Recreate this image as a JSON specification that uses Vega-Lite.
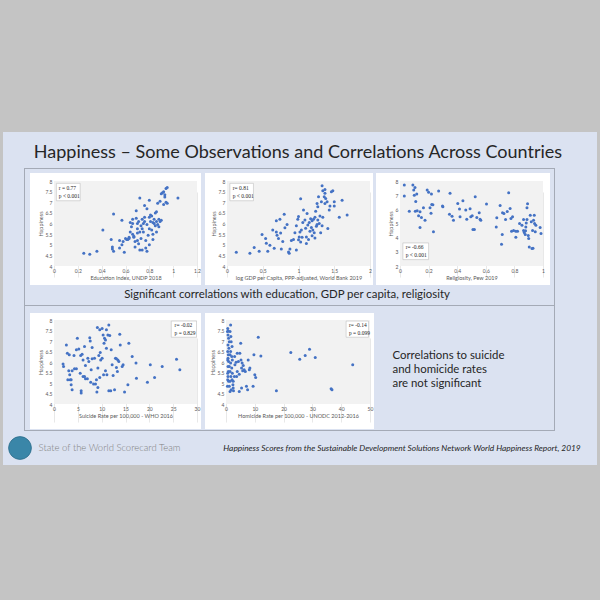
{
  "$schema": "https://vega.github.io/schema/vega-lite/v6.json",
  "padding": 0,
  "background": "#dbe2f1",
  "data": {"values": [{}]},
  "datasets": {
    "education": [
      {"value":0.25,"happiness":4.6},{"value":0.30,"happiness":4.55},{"value":0.36,"happiness":4.7},{"value":0.41,"happiness":5.7},{"value":0.50,"happiness":6.45},{"value":0.57,"happiness":6.15},{"value":0.48,"happiness":5.25},{"value":0.49,"happiness":4.9},{"value":0.49,"happiness":4.8},{"value":0.50,"happiness":4.7},{"value":0.55,"happiness":4.85},{"value":0.55,"happiness":5.2},{"value":0.59,"happiness":4.65},{"value":0.58,"happiness":5.15},{"value":0.61,"happiness":5.25},{"value":0.62,"happiness":5.25},{"value":0.63,"happiness":5.3},{"value":0.64,"happiness":5.6},{"value":0.64,"happiness":6.05},{"value":0.65,"happiness":5.85},{"value":0.66,"happiness":6.0},{"value":0.66,"happiness":5.5},{"value":0.67,"happiness":5.4},{"value":0.68,"happiness":5.15},{"value":0.68,"happiness":4.9},{"value":0.69,"happiness":6.6},{"value":0.69,"happiness":6.25},{"value":0.70,"happiness":5.75},{"value":0.70,"happiness":5.2},{"value":0.71,"happiness":6.1},{"value":0.71,"happiness":5.05},{"value":0.72,"happiness":4.75},{"value":0.72,"happiness":7.2},{"value":0.73,"happiness":5.9},{"value":0.73,"happiness":5.3},{"value":0.74,"happiness":6.2},{"value":0.74,"happiness":4.75},{"value":0.75,"happiness":6.0},{"value":0.75,"happiness":5.6},{"value":0.76,"happiness":6.3},{"value":0.76,"happiness":6.85},{"value":0.77,"happiness":5.2},{"value":0.77,"happiness":4.85},{"value":0.78,"happiness":4.7},{"value":0.78,"happiness":5.95},{"value":0.79,"happiness":5.45},{"value":0.80,"happiness":6.3},{"value":0.80,"happiness":5.0},{"value":0.80,"happiness":7.1},{"value":0.81,"happiness":6.1},{"value":0.81,"happiness":6.4},{"value":0.82,"happiness":5.7},{"value":0.82,"happiness":6.35},{"value":0.83,"happiness":5.5},{"value":0.83,"happiness":5.25},{"value":0.84,"happiness":6.0},{"value":0.84,"happiness":6.2},{"value":0.85,"happiness":5.9},{"value":0.85,"happiness":6.5},{"value":0.86,"happiness":6.1},{"value":0.86,"happiness":5.6},{"value":0.87,"happiness":5.95},{"value":0.87,"happiness":6.95},{"value":0.88,"happiness":6.2},{"value":0.88,"happiness":5.85},{"value":0.89,"happiness":7.05},{"value":0.89,"happiness":6.1},{"value":0.90,"happiness":7.4},{"value":0.90,"happiness":6.15},{"value":0.91,"happiness":7.45},{"value":0.92,"happiness":7.5},{"value":0.92,"happiness":6.9},{"value":0.93,"happiness":7.25},{"value":0.94,"happiness":7.0},{"value":0.94,"happiness":7.65},{"value":0.95,"happiness":7.7},{"value":0.95,"happiness":6.95},{"value":0.93,"happiness":7.35},{"value":1.04,"happiness":7.2},{"value":0.76,"happiness":6.1},{"value":0.74,"happiness":5.75},{"value":0.70,"happiness":6.0},{"value":0.67,"happiness":5.35},{"value":0.63,"happiness":5.35},{"value":0.57,"happiness":5.0},{"value":0.60,"happiness":5.3},{"value":0.72,"happiness":5.6},{"value":0.83,"happiness":6.05},{"value":0.78,"happiness":6.7},{"value":0.80,"happiness":5.75},{"value":0.70,"happiness":5.55},{"value":0.86,"happiness":6.55},{"value":0.66,"happiness":6.2}
    ],
    "gdp": [
      {"value":0.13,"happiness":4.65},{"value":0.32,"happiness":4.6},{"value":0.38,"happiness":4.87},{"value":0.45,"happiness":4.7},{"value":0.49,"happiness":5.48},{"value":0.54,"happiness":5.3},{"value":0.55,"happiness":5.07},{"value":0.57,"happiness":4.7},{"value":0.60,"happiness":4.98},{"value":0.66,"happiness":4.83},{"value":0.69,"happiness":5.6},{"value":0.70,"happiness":5.45},{"value":0.69,"happiness":6.13},{"value":0.74,"happiness":6.2},{"value":0.72,"happiness":5.3},{"value":0.76,"happiness":4.8},{"value":0.78,"happiness":5.15},{"value":0.80,"happiness":6.43},{"value":0.81,"happiness":5.8},{"value":0.84,"happiness":5.95},{"value":0.86,"happiness":4.66},{"value":0.87,"happiness":4.6},{"value":0.88,"happiness":4.8},{"value":0.93,"happiness":5.25},{"value":0.95,"happiness":5.56},{"value":0.97,"happiness":5.9},{"value":0.97,"happiness":4.75},{"value":0.99,"happiness":6.2},{"value":1.0,"happiness":6.33},{"value":1.0,"happiness":5.23},{"value":1.01,"happiness":5.37},{"value":1.02,"happiness":5.6},{"value":1.03,"happiness":7.17},{"value":1.03,"happiness":5.13},{"value":1.04,"happiness":5.7},{"value":1.06,"happiness":6.05},{"value":1.07,"happiness":6.63},{"value":1.09,"happiness":6.16},{"value":1.10,"happiness":5.78},{"value":1.11,"happiness":5.37},{"value":1.11,"happiness":5.06},{"value":1.12,"happiness":6.47},{"value":1.13,"happiness":5.93},{"value":1.16,"happiness":5.64},{"value":1.17,"happiness":6.22},{"value":1.18,"happiness":5.81},{"value":1.19,"happiness":5.42},{"value":1.19,"happiness":6.13},{"value":1.2,"happiness":5.7},{"value":1.22,"happiness":5.56},{"value":1.23,"happiness":5.32},{"value":1.23,"happiness":6.3},{"value":1.24,"happiness":6.58},{"value":1.25,"happiness":5.87},{"value":1.26,"happiness":6.94},{"value":1.27,"happiness":6.16},{"value":1.27,"happiness":6.79},{"value":1.28,"happiness":7.26},{"value":1.29,"happiness":6.0},{"value":1.30,"happiness":6.35},{"value":1.31,"happiness":5.56},{"value":1.32,"happiness":7.02},{"value":1.33,"happiness":5.9},{"value":1.34,"happiness":7.54},{"value":1.33,"happiness":7.78},{"value":1.37,"happiness":7.6},{"value":1.37,"happiness":7.42},{"value":1.36,"happiness":7.26},{"value":1.38,"happiness":7.18},{"value":1.37,"happiness":6.94},{"value":1.40,"happiness":7.02},{"value":1.44,"happiness":6.82},{"value":1.46,"happiness":7.5},{"value":1.48,"happiness":7.54},{"value":1.50,"happiness":7.02},{"value":1.50,"happiness":6.82},{"value":1.57,"happiness":6.3},{"value":1.61,"happiness":7.1},{"value":1.68,"happiness":6.4},{"value":1.41,"happiness":5.77},{"value":1.34,"happiness":6.29},{"value":1.43,"happiness":6.63},{"value":0.64,"happiness":5.7},{"value":0.75,"happiness":5.55},{"value":0.9,"happiness":5.2},{"value":1.05,"happiness":5.35},{"value":1.15,"happiness":6.05},{"value":1.21,"happiness":6.2},{"value":1.26,"happiness":5.95},{"value":1.14,"happiness":5.25}
    ],
    "religiosity": [
      {"value":0.03,"happiness":7.72},{"value":0.03,"happiness":6.94},{"value":0.065,"happiness":5.87},{"value":0.09,"happiness":7.72},{"value":0.096,"happiness":7.36},{"value":0.105,"happiness":7.55},{"value":0.10,"happiness":7.0},{"value":0.117,"happiness":7.08},{"value":0.11,"happiness":6.56},{"value":0.107,"happiness":5.87},{"value":0.12,"happiness":5.9},{"value":0.13,"happiness":5.54},{"value":0.14,"happiness":5.83},{"value":0.15,"happiness":5.42},{"value":0.14,"happiness":4.72},{"value":0.164,"happiness":6.11},{"value":0.175,"happiness":5.23},{"value":0.19,"happiness":7.36},{"value":0.2,"happiness":7.2},{"value":0.21,"happiness":6.11},{"value":0.217,"happiness":5.73},{"value":0.222,"happiness":6.35},{"value":0.23,"happiness":6.33},{"value":0.234,"happiness":4.41},{"value":0.22,"happiness":7.08},{"value":0.27,"happiness":7.3},{"value":0.297,"happiness":6.23},{"value":0.3,"happiness":6.18},{"value":0.35,"happiness":7.13},{"value":0.346,"happiness":5.66},{"value":0.364,"happiness":5.52},{"value":0.374,"happiness":5.23},{"value":0.404,"happiness":6.42},{"value":0.416,"happiness":6.02},{"value":0.42,"happiness":5.47},{"value":0.44,"happiness":6.6},{"value":0.46,"happiness":5.96},{"value":0.467,"happiness":5.3},{"value":0.49,"happiness":6.04},{"value":0.495,"happiness":5.47},{"value":0.505,"happiness":5.54},{"value":0.51,"happiness":4.57},{"value":0.52,"happiness":4.57},{"value":0.526,"happiness":6.89},{"value":0.537,"happiness":5.42},{"value":0.554,"happiness":5.76},{"value":0.56,"happiness":5.3},{"value":0.565,"happiness":5.23},{"value":0.605,"happiness":6.37},{"value":0.673,"happiness":4.76},{"value":0.677,"happiness":5.4},{"value":0.7,"happiness":6.27},{"value":0.71,"happiness":3.54},{"value":0.715,"happiness":4.22},{"value":0.717,"happiness":5.76},{"value":0.727,"happiness":5.71},{"value":0.738,"happiness":5.28},{"value":0.75,"happiness":5.85},{"value":0.76,"happiness":7.17},{"value":0.77,"happiness":6.06},{"value":0.776,"happiness":5.35},{"value":0.78,"happiness":4.46},{"value":0.787,"happiness":5.47},{"value":0.794,"happiness":4.5},{"value":0.81,"happiness":4.46},{"value":0.822,"happiness":4.46},{"value":0.81,"happiness":4.03},{"value":0.853,"happiness":4.88},{"value":0.864,"happiness":4.5},{"value":0.869,"happiness":4.36},{"value":0.876,"happiness":4.22},{"value":0.878,"happiness":4.48},{"value":0.883,"happiness":5.04},{"value":0.888,"happiness":6.11},{"value":0.892,"happiness":6.39},{"value":0.888,"happiness":5.28},{"value":0.897,"happiness":4.15},{"value":0.9,"happiness":3.94},{"value":0.904,"happiness":3.35},{"value":0.911,"happiness":5.59},{"value":0.918,"happiness":5.12},{"value":0.923,"happiness":3.23},{"value":0.93,"happiness":3.25},{"value":0.927,"happiness":4.5},{"value":0.934,"happiness":5.23},{"value":0.939,"happiness":5.59},{"value":0.946,"happiness":4.41},{"value":0.941,"happiness":5.0},{"value":0.95,"happiness":4.88},{"value":0.98,"happiness":4.72},{"value":0.986,"happiness":4.29},{"value":0.88,"happiness":4.76},{"value":0.864,"happiness":5.28},{"value":0.836,"happiness":5.0}
    ],
    "suicide": [
      {"value":1.9,"happiness":5.9},{"value":2.0,"happiness":5.79},{"value":2.6,"happiness":6.81},{"value":2.8,"happiness":6.42},{"value":2.9,"happiness":5.15},{"value":3.1,"happiness":5.58},{"value":3.2,"happiness":6.34},{"value":3.3,"happiness":5.39},{"value":3.4,"happiness":5.15},{"value":3.6,"happiness":5.15},{"value":3.6,"happiness":4.92},{"value":3.8,"happiness":4.68},{"value":3.8,"happiness":5.58},{"value":4.2,"happiness":6.31},{"value":4.3,"happiness":5.68},{"value":4.7,"happiness":5.68},{"value":4.9,"happiness":7.13},{"value":5.2,"happiness":6.62},{"value":5.6,"happiness":6.31},{"value":5.7,"happiness":4.63},{"value":5.7,"happiness":4.52},{"value":5.9,"happiness":6.37},{"value":6.1,"happiness":5.31},{"value":6.1,"happiness":6.1},{"value":6.4,"happiness":6.74},{"value":6.4,"happiness":5.31},{"value":6.6,"happiness":5.2},{"value":7.0,"happiness":5.2},{"value":7.1,"happiness":6.18},{"value":7.3,"happiness":6.02},{"value":7.5,"happiness":7.16},{"value":7.6,"happiness":7.0},{"value":7.7,"happiness":5.04},{"value":7.8,"happiness":5.63},{"value":8.0,"happiness":6.15},{"value":8.3,"happiness":4.95},{"value":8.5,"happiness":6.18},{"value":8.7,"happiness":4.95},{"value":8.9,"happiness":5.15},{"value":9.0,"happiness":4.57},{"value":9.1,"happiness":7.64},{"value":9.2,"happiness":5.71},{"value":9.2,"happiness":4.79},{"value":9.4,"happiness":6.31},{"value":9.6,"happiness":7.53},{"value":9.6,"happiness":5.26},{"value":9.7,"happiness":6.45},{"value":9.8,"happiness":6.1},{"value":10.1,"happiness":7.6},{"value":10.1,"happiness":6.18},{"value":10.3,"happiness":7.29},{"value":10.4,"happiness":5.39},{"value":10.5,"happiness":6.89},{"value":10.6,"happiness":7.13},{"value":10.8,"happiness":7.05},{"value":10.8,"happiness":5.58},{"value":11.0,"happiness":7.53},{"value":11.1,"happiness":5.39},{"value":11.3,"happiness":7.29},{"value":11.5,"happiness":4.63},{"value":11.5,"happiness":7.76},{"value":11.7,"happiness":7.26},{"value":11.9,"happiness":4.63},{"value":12.0,"happiness":6.58},{"value":12.2,"happiness":5.87},{"value":12.4,"happiness":5.36},{"value":12.7,"happiness":4.68},{"value":12.9,"happiness":6.18},{"value":13.1,"happiness":5.74},{"value":13.1,"happiness":6.15},{"value":13.3,"happiness":5.55},{"value":13.4,"happiness":6.1},{"value":13.6,"happiness":6.02},{"value":13.8,"happiness":7.32},{"value":13.9,"happiness":6.81},{"value":14.3,"happiness":5.79},{"value":14.5,"happiness":5.87},{"value":14.8,"happiness":4.57},{"value":15.5,"happiness":4.92},{"value":15.7,"happiness":6.89},{"value":16.4,"happiness":6.26},{"value":17.2,"happiness":5.95},{"value":17.3,"happiness":5.23},{"value":20.2,"happiness":5.87},{"value":19.6,"happiness":5.03},{"value":21.1,"happiness":5.26},{"value":22.7,"happiness":5.79},{"value":25.7,"happiness":6.13},{"value":26.4,"happiness":5.63},{"value":4.7,"happiness":6.58},{"value":8.0,"happiness":6.69},{"value":11.0,"happiness":6.66},{"value":6.6,"happiness":5.83},{"value":5.5,"happiness":5.47}
    ],
    "homicide": [
      {"value":0.6,"happiness":7.6},{"value":0.8,"happiness":7.48},{"value":0.7,"happiness":7.29},{"value":0.9,"happiness":7.13},{"value":1.15,"happiness":6.97},{"value":0.7,"happiness":6.81},{"value":1.0,"happiness":6.66},{"value":0.8,"happiness":6.34},{"value":0.7,"happiness":6.18},{"value":0.9,"happiness":6.02},{"value":0.7,"happiness":5.79},{"value":0.8,"happiness":5.55},{"value":0.7,"happiness":5.31},{"value":0.9,"happiness":5.08},{"value":1.15,"happiness":4.84},{"value":1.4,"happiness":4.6},{"value":1.6,"happiness":7.76},{"value":1.7,"happiness":7.21},{"value":1.8,"happiness":6.97},{"value":2.1,"happiness":6.74},{"value":1.6,"happiness":6.5},{"value":2.0,"happiness":6.26},{"value":2.2,"happiness":6.1},{"value":1.6,"happiness":5.95},{"value":2.0,"happiness":5.71},{"value":2.2,"happiness":5.47},{"value":1.7,"happiness":5.31},{"value":2.1,"happiness":5.15},{"value":2.4,"happiness":4.92},{"value":1.8,"happiness":4.68},{"value":2.6,"happiness":4.63},{"value":2.5,"happiness":5.08},{"value":2.9,"happiness":5.31},{"value":3.1,"happiness":5.87},{"value":3.5,"happiness":5.99},{"value":3.9,"happiness":5.55},{"value":4.3,"happiness":6.02},{"value":4.6,"happiness":5.42},{"value":4.8,"happiness":6.42},{"value":5.1,"happiness":6.89},{"value":5.2,"happiness":6.1},{"value":5.4,"happiness":5.71},{"value":5.6,"happiness":5.95},{"value":5.8,"happiness":5.58},{"value":6.0,"happiness":5.83},{"value":4.6,"happiness":4.6},{"value":6.3,"happiness":5.63},{"value":6.7,"happiness":5.55},{"value":7.1,"happiness":4.84},{"value":7.5,"happiness":4.68},{"value":7.7,"happiness":6.1},{"value":8.1,"happiness":5.63},{"value":8.3,"happiness":5.71},{"value":9.4,"happiness":4.84},{"value":9.7,"happiness":6.34},{"value":10.0,"happiness":5.39},{"value":10.3,"happiness":5.26},{"value":11.2,"happiness":7.18},{"value":12.1,"happiness":6.29},{"value":17.5,"happiness":4.63},{"value":22.5,"happiness":6.45},{"value":25.6,"happiness":6.13},{"value":27.5,"happiness":6.31},{"value":29.0,"happiness":6.61},{"value":31.0,"happiness":6.21},{"value":36.5,"happiness":4.73},{"value":36.8,"happiness":4.68},{"value":44.0,"happiness":5.87},{"value":0.5,"happiness":7.45},{"value":0.6,"happiness":6.5},{"value":0.6,"happiness":6.1},{"value":0.6,"happiness":5.47},{"value":0.6,"happiness":5.15},{"value":0.5,"happiness":4.84},{"value":1.4,"happiness":7.45},{"value":1.4,"happiness":6.34},{"value":1.4,"happiness":5.55},{"value":1.4,"happiness":5.08},{"value":1.15,"happiness":5.79},{"value":2.5,"happiness":4.76},{"value":3.7,"happiness":5.31},{"value":5.4,"happiness":4.76},{"value":3.0,"happiness":6.26},{"value":3.9,"happiness":6.42}
    ]
  },
  "config": {
    "view": {"stroke": null},
    "font": "Lato",
    "concat": {"spacing": 0},
    "axis": {
      "domain": false, "ticks": false,
      "labelFontSize": 5, "titleFontSize": 5.5,
      "labelColor": "#595959", "titleColor": "#595959",
      "titleFontWeight": "normal", "labelPadding": 2, "titlePadding": 2,
      "gridColor": "#d9d9d9", "gridWidth": 0.6,
      "labelFlush": false, "labelOverlap": false, "labelSeparation": -30, "zindex": 1
    }
  },
  "spacing": 0,
  "hconcat": [
    {"width": 3, "height": 600, "view": {"fill": "#c4c4c4"}, "mark": {"type": "circle", "size": 0, "opacity": 0}, "encoding": {}},
    {
      "spacing": 0,
      "vconcat": [
        {"width": 594, "height": 132, "view": {"fill": "#c4c4c4"}, "mark": {"type": "circle", "size": 0, "opacity": 0}, "encoding": {}},
        {"width": 594, "height": 6, "mark": {"type": "circle", "size": 0, "opacity": 0}, "encoding": {}},
        {
          "spacing": 0,
          "hconcat": [
            {"width": 590, "height": 30, "mark": {"type": "text", "text": "Happiness – Some Observations and Correlations Across Countries", "font": "Lato", "fontSize": 18, "color": "#262626", "baseline": "middle"}, "encoding": {}},
            {"width": 4, "height": 30, "mark": {"type": "circle", "size": 0, "opacity": 0}, "encoding": {}}
          ]
        },
        {
          "spacing": 0,
          "hconcat": [
            {"width": 21, "height": 263, "mark": {"type": "circle", "size": 0, "opacity": 0}, "encoding": {}},
            {"width": 1, "height": 263, "view": {"fill": "#a4aab6"}, "mark": {"type": "circle", "size": 0, "opacity": 0}, "encoding": {}},
            {
              "spacing": 0,
              "vconcat": [
                {"width": 529, "height": 1, "view": {"fill": "#a4aab6"}, "mark": {"type": "circle", "size": 0, "opacity": 0}, "encoding": {}},
                {"width": 529, "height": 4, "mark": {"type": "circle", "size": 0, "opacity": 0}, "encoding": {}},
                {
                  "spacing": 0,
                  "hconcat": [
                    {"width": 5, "height": 112, "mark": {"type": "circle", "size": 0, "opacity": 0}, "encoding": {}},
                    {
                      "width": 171, "height": 112,
                      "view": {"fill": "#ffffff"},
                      "resolve": {"axis": {"x": "independent", "y": "independent"}},
                      "layer": [
                        {"mark": {"type": "rect", "fill": "#f2f2f2"},
                         "encoding": {"x": {"datum": 0, "type": "quantitative", "axis": null}, "x2": {"datum": 1.2}, "y": {"datum": 4, "type": "quantitative", "axis": null}, "y2": {"datum": 8}}},
                        {"data": {"name": "education"},
                         "mark": {"type": "circle", "size": 9, "opacity": 1, "color": "#4472c4"},
                         "encoding": {
                           "x": {"field": "value", "type": "quantitative",
                                 "scale": {"domain": [0, 1.2], "range": [24, 167], "nice": false, "zero": false},
                                 "axis": {"title": "Education Index, UNDP 2018", "values": [0, 0.2, 0.4, 0.6, 0.8, 1, 1.2], "format": ".1~f", "labelOverlap": false, "offset": -19, "grid": true}},
                           "y": {"field": "happiness", "type": "quantitative",
                                 "scale": {"domain": [4, 8], "range": [93, 8], "nice": false, "zero": false},
                                 "axis": {"title": "Happiness", "values": [4, 4.5, 5, 5.5, 6, 6.5, 7, 7.5, 8], "format": ".1~f", "labelOverlap": false, "offset": -24, "grid": false}}}},
                        {"mark": {"type": "rect", "fill": "#ffffff", "stroke": "#bfbfbf", "strokeWidth": 0.6},
                         "encoding": {"x": {"datum": 0.02, "type": "quantitative", "axis": null}, "x2": {"datum": 0.22}, "y": {"datum": 7.07, "type": "quantitative", "axis": null}, "y2": {"datum": 7.89}}},
                        {"mark": {"type": "text", "text": ["r = 0.77", "p < 0.001"], "align": "left", "baseline": "middle", "fontSize": 5.5, "lineHeight": 8, "font": "Liberation Serif", "color": "#262626", "dy": -4},
                         "encoding": {"x": {"datum": 0.04, "type": "quantitative", "axis": null}, "y": {"datum": 7.5, "type": "quantitative", "axis": null}}}
                      ]
                    },
                    {"width": 4, "height": 112, "mark": {"type": "circle", "size": 0, "opacity": 0}, "encoding": {}},
                    {
                      "width": 168, "height": 112,
                      "view": {"fill": "#ffffff"},
                      "resolve": {"axis": {"x": "independent", "y": "independent"}},
                      "layer": [
                        {"mark": {"type": "rect", "fill": "#f2f2f2"},
                         "encoding": {"x": {"datum": 0, "type": "quantitative", "axis": null}, "x2": {"datum": 2}, "y": {"datum": 4, "type": "quantitative", "axis": null}, "y2": {"datum": 8}}},
                        {"data": {"name": "gdp"},
                         "mark": {"type": "circle", "size": 9, "opacity": 1, "color": "#4472c4"},
                         "encoding": {
                           "x": {"field": "value", "type": "quantitative",
                                 "scale": {"domain": [0, 2], "range": [22, 165], "nice": false, "zero": false},
                                 "axis": {"title": "log GDP per Capita, PPP-adjusted, World Bank 2019", "values": [0, 0.5, 1, 1.5, 2], "format": ".1~f", "labelOverlap": false, "offset": -19, "grid": true}},
                           "y": {"field": "happiness", "type": "quantitative",
                                 "scale": {"domain": [4, 8], "range": [93, 8], "nice": false, "zero": false},
                                 "axis": {"title": "Happiness", "values": [4, 4.5, 5, 5.5, 6, 6.5, 7, 7.5, 8], "format": ".1~f", "labelOverlap": false, "offset": -22, "grid": false}}}},
                        {"mark": {"type": "rect", "fill": "#ffffff", "stroke": "#bfbfbf", "strokeWidth": 0.6},
                         "encoding": {"x": {"datum": 0.04, "type": "quantitative", "axis": null}, "x2": {"datum": 0.37}, "y": {"datum": 7.07, "type": "quantitative", "axis": null}, "y2": {"datum": 7.89}}},
                        {"mark": {"type": "text", "text": ["r= 0.81", "p < 0.001"], "align": "left", "baseline": "middle", "fontSize": 5.5, "lineHeight": 8, "font": "Liberation Serif", "color": "#262626", "dy": -4},
                         "encoding": {"x": {"datum": 0.08, "type": "quantitative", "axis": null}, "y": {"datum": 7.5, "type": "quantitative", "axis": null}}}
                      ]
                    },
                    {"width": 3, "height": 112, "mark": {"type": "circle", "size": 0, "opacity": 0}, "encoding": {}},
                    {
                      "width": 174, "height": 112,
                      "view": {"fill": "#ffffff"},
                      "resolve": {"axis": {"x": "independent", "y": "independent"}},
                      "layer": [
                        {"mark": {"type": "rect", "fill": "#f2f2f2"},
                         "encoding": {"x": {"datum": 0, "type": "quantitative", "axis": null}, "x2": {"datum": 1}, "y": {"datum": 2, "type": "quantitative", "axis": null}, "y2": {"datum": 8}}},
                        {"data": {"name": "religiosity"},
                         "mark": {"type": "circle", "size": 9, "opacity": 1, "color": "#4472c4"},
                         "encoding": {
                           "x": {"field": "value", "type": "quantitative",
                                 "scale": {"domain": [0, 1], "range": [24, 167], "nice": false, "zero": false},
                                 "axis": {"title": "Religiosity, Pew 2019", "values": [0, 0.2, 0.4, 0.6, 0.8, 1], "format": ".1~f", "labelOverlap": false, "offset": -19, "grid": true}},
                           "y": {"field": "happiness", "type": "quantitative",
                                 "scale": {"domain": [2, 8], "range": [93, 8], "nice": false, "zero": false},
                                 "axis": {"title": "Happiness", "values": [2, 3, 4, 5, 6, 7, 8], "format": ".1~f", "labelOverlap": false, "offset": -24, "grid": false}}}},
                        {"mark": {"type": "rect", "fill": "#ffffff", "stroke": "#bfbfbf", "strokeWidth": 0.6},
                         "encoding": {"x": {"datum": 0.02, "type": "quantitative", "axis": null}, "x2": {"datum": 0.2}, "y": {"datum": 2.45, "type": "quantitative", "axis": null}, "y2": {"datum": 3.63}}},
                        {"mark": {"type": "text", "text": ["r= -0.66", "p < 0.001"], "align": "left", "baseline": "middle", "fontSize": 5.5, "lineHeight": 8, "font": "Liberation Serif", "color": "#262626", "dy": -4},
                         "encoding": {"x": {"datum": 0.04, "type": "quantitative", "axis": null}, "y": {"datum": 3.04, "type": "quantitative", "axis": null}}}
                      ]
                    },
                    {"width": 4, "height": 112, "mark": {"type": "circle", "size": 0, "opacity": 0}, "encoding": {}}
                  ]
                },
                {
                  "spacing": 0,
                  "hconcat": [
                    {"width": 524, "height": 20, "mark": {"type": "text", "text": "Significant correlations with education, GDP per capita, religiosity", "font": "Lato", "fontSize": 11.4, "color": "#262626", "baseline": "middle"}, "encoding": {}},
                    {"width": 5, "height": 20, "mark": {"type": "circle", "size": 0, "opacity": 0}, "encoding": {}}
                  ]
                },
                {"width": 529, "height": 1, "view": {"fill": "#a4aab6"}, "mark": {"type": "circle", "size": 0, "opacity": 0}, "encoding": {}},
                {"width": 529, "height": 7, "mark": {"type": "circle", "size": 0, "opacity": 0}, "encoding": {}},
                {
                  "spacing": 0,
                  "hconcat": [
                    {"width": 5, "height": 116, "mark": {"type": "circle", "size": 0, "opacity": 0}, "encoding": {}},
                    {
                      "width": 171, "height": 116,
                      "view": {"fill": "#ffffff"},
                      "resolve": {"axis": {"x": "independent", "y": "independent"}},
                      "layer": [
                        {"mark": {"type": "rect", "fill": "#f2f2f2"},
                         "encoding": {"x": {"datum": 0, "type": "quantitative", "axis": null}, "x2": {"datum": 30}, "y": {"datum": 4, "type": "quantitative", "axis": null}, "y2": {"datum": 8}}},
                        {"data": {"name": "suicide"},
                         "mark": {"type": "circle", "size": 9, "opacity": 1, "color": "#4472c4"},
                         "encoding": {
                           "x": {"field": "value", "type": "quantitative",
                                 "scale": {"domain": [0, 30], "range": [24, 167], "nice": false, "zero": false},
                                 "axis": {"title": "Suicide Rate per 100,000 - WHO 2016", "values": [0, 5, 10, 15, 20, 25, 30], "format": ".1~f", "labelOverlap": false, "offset": -25, "grid": true}},
                           "y": {"field": "happiness", "type": "quantitative",
                                 "scale": {"domain": [4, 8], "range": [91, 7], "nice": false, "zero": false},
                                 "axis": {"title": "Happiness", "values": [4, 4.5, 5, 5.5, 6, 6.5, 7, 7.5, 8], "format": ".1~f", "labelOverlap": false, "offset": -24, "grid": false}}}},
                        {"mark": {"type": "rect", "fill": "#ffffff", "stroke": "#bfbfbf", "strokeWidth": 0.6},
                         "encoding": {"x": {"datum": 24.6, "type": "quantitative", "axis": null}, "x2": {"datum": 29.9}, "y": {"datum": 7.18, "type": "quantitative", "axis": null}, "y2": {"datum": 7.95}}},
                        {"mark": {"type": "text", "text": ["r= -0.02", "p = 0.829"], "align": "left", "baseline": "middle", "fontSize": 5.5, "lineHeight": 8, "font": "Liberation Serif", "color": "#262626", "dy": -4},
                         "encoding": {"x": {"datum": 25.3, "type": "quantitative", "axis": null}, "y": {"datum": 7.57, "type": "quantitative", "axis": null}}}
                      ]
                    },
                    {"width": 4, "height": 116, "mark": {"type": "circle", "size": 0, "opacity": 0}, "encoding": {}},
                    {
                      "width": 169, "height": 116,
                      "view": {"fill": "#ffffff"},
                      "resolve": {"axis": {"x": "independent", "y": "independent"}},
                      "layer": [
                        {"mark": {"type": "rect", "fill": "#f2f2f2"},
                         "encoding": {"x": {"datum": 0, "type": "quantitative", "axis": null}, "x2": {"datum": 50}, "y": {"datum": 4, "type": "quantitative", "axis": null}, "y2": {"datum": 8}}},
                        {"data": {"name": "homicide"},
                         "mark": {"type": "circle", "size": 9, "opacity": 1, "color": "#4472c4"},
                         "encoding": {
                           "x": {"field": "value", "type": "quantitative",
                                 "scale": {"domain": [0, 50], "range": [21, 165], "nice": false, "zero": false},
                                 "axis": {"title": "Homicide Rate per 100,000 - UNODC 2012-2016", "values": [0, 10, 20, 30, 40, 50], "format": ".1~f", "labelOverlap": false, "offset": -25, "grid": true}},
                           "y": {"field": "happiness", "type": "quantitative",
                                 "scale": {"domain": [4, 8], "range": [91, 7], "nice": false, "zero": false},
                                 "axis": {"title": "Happiness", "values": [4, 4.5, 5, 5.5, 6, 6.5, 7, 7.5, 8], "format": ".1~f", "labelOverlap": false, "offset": -21, "grid": false}}}},
                        {"mark": {"type": "rect", "fill": "#ffffff", "stroke": "#bfbfbf", "strokeWidth": 0.6},
                         "encoding": {"x": {"datum": 41.7, "type": "quantitative", "axis": null}, "x2": {"datum": 49.5}, "y": {"datum": 7.18, "type": "quantitative", "axis": null}, "y2": {"datum": 7.95}}},
                        {"mark": {"type": "text", "text": ["r= -0.14", "p = 0.099"], "align": "left", "baseline": "middle", "fontSize": 5.5, "lineHeight": 8, "font": "Liberation Serif", "color": "#262626", "dy": -4},
                         "encoding": {"x": {"datum": 42.7, "type": "quantitative", "axis": null}, "y": {"datum": 7.57, "type": "quantitative", "axis": null}}}
                      ]
                    },
                    {"width": 18, "height": 116, "mark": {"type": "circle", "size": 0, "opacity": 0}, "encoding": {}},
                    {"width": 1, "height": 116, "mark": {"type": "text", "text": ["Correlations to suicide", "and homicide rates", "are not significant"], "font": "Lato", "fontSize": 11.4, "lineHeight": 14, "align": "left", "baseline": "middle", "color": "#262626", "dy": -15}, "encoding": {}}
                  ]
                },
                {"width": 529, "height": 1, "mark": {"type": "circle", "size": 0, "opacity": 0}, "encoding": {}},
                {"width": 529, "height": 1, "view": {"fill": "#a4aab6"}, "mark": {"type": "circle", "size": 0, "opacity": 0}, "encoding": {}}
              ]
            },
            {"width": 1, "height": 263, "view": {"fill": "#a4aab6"}, "mark": {"type": "circle", "size": 0, "opacity": 0}, "encoding": {}},
            {"width": 42, "height": 263, "mark": {"type": "circle", "size": 0, "opacity": 0}, "encoding": {}}
          ]
        },
        {
          "spacing": 0,
          "hconcat": [
            {"width": 3, "height": 34, "mark": {"type": "circle", "size": 0, "opacity": 0}, "encoding": {}},
            {"width": 28, "height": 34, "mark": {"type": "circle", "size": 520, "opacity": 1, "color": "#3a86a8", "stroke": "#2b6c8a", "strokeWidth": 0.8}, "encoding": {}},
            {"width": 151, "height": 34, "mark": {"type": "text", "text": "State of the World Scorecard Team", "font": "Lato", "fontSize": 9.5, "fontWeight": 300, "color": "#808080", "baseline": "middle"}, "encoding": {}},
            {"width": 36, "height": 34, "mark": {"type": "circle", "size": 0, "opacity": 0}, "encoding": {}},
            {"width": 362, "height": 34, "mark": {"type": "text", "text": "Happiness Scores from the Sustainable Development Solutions Network World Happiness Report, 2019", "font": "Lato", "fontSize": 8.4, "fontStyle": "italic", "color": "#262626", "baseline": "middle"}, "encoding": {}},
            {"width": 14, "height": 34, "mark": {"type": "circle", "size": 0, "opacity": 0}, "encoding": {}}
          ]
        },
        {"width": 594, "height": 135, "view": {"fill": "#c4c4c4"}, "mark": {"type": "circle", "size": 0, "opacity": 0}, "encoding": {}}
      ]
    },
    {"width": 3, "height": 600, "view": {"fill": "#c4c4c4"}, "mark": {"type": "circle", "size": 0, "opacity": 0}, "encoding": {}}
  ]
}
